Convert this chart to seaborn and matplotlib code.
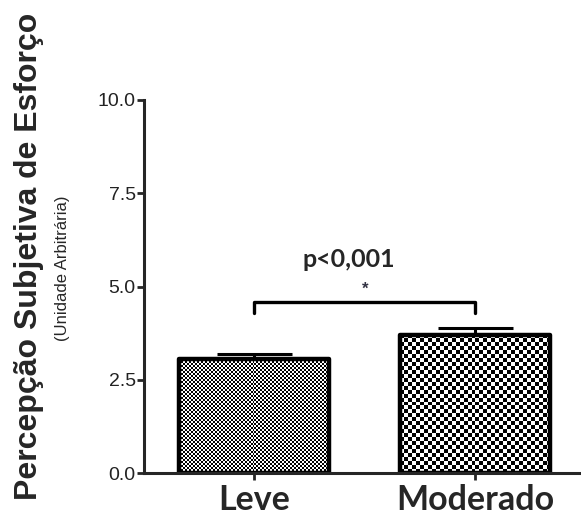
import numpy as np
import pandas as pd
import matplotlib
matplotlib.use("Agg")
import matplotlib.pyplot as plt
import seaborn as sns

# ─── Data ────────────────────────────────────────────────────
categories = ["Leve", "Moderado"]
means = [3.05, 3.70]
errors = [0.15, 0.18]
y_ticks = [0.0, 2.5, 5.0, 7.5, 10.0]
bracket_y = [4.30, 4.58]
p_label = "p<0,001"

# ─── Figure ──────────────────────────────────────────────────
sns.set_style("white")
plt.rcParams["font.family"] = ["Liberation Sans", "DejaVu Sans"]

fig = plt.figure(figsize=(5.81, 5.29), dpi=100)
ax = fig.add_axes([144 / 581, 1 - 473 / 529, 1 - 144 / 581, (473 - 100) / 529])

df = pd.DataFrame({"cat": categories, "val": means})
sns.barplot(data=df, x="cat", y="val", ax=ax, width=0.68,
            color="white", edgecolor="black", linewidth=3.2, errorbar=None)

ax.set_xlim(-0.5, 1.48)
ax.set_ylim(0, 10)

# error bars (upper only, the bar hides the rest)
ax.errorbar([0, 1], means, yerr=[[0, 0], errors], fmt="none",
            ecolor="black", elinewidth=2.2, capsize=27, capthick=2.2, zorder=1)


def checker(cell, w, h):
    ny, nx = int(np.ceil(h / cell)), int(np.ceil(w / cell))
    return (np.indices((ny, nx)).sum(axis=0) % 2).astype(float)


# checkerboard fills clipped to the bars
cells = [2, 4]
for patch, cell in zip(ax.patches, cells):
    patch.set_joinstyle("round")
    x0, y0 = patch.get_x(), patch.get_y()
    x1, y1 = x0 + patch.get_width(), y0 + patch.get_height()
    (px0, py0), (px1, py1) = ax.transData.transform([(x0, y0), (x1, y1)])
    img = checker(cell, px1 - px0, py1 - py0)
    im = ax.imshow(img, cmap="gray", vmin=0, vmax=1, interpolation="nearest",
                   extent=(x0, x1, y0, y1), aspect="auto", zorder=1.5)
    im.set_clip_path(patch)
    patch.set_zorder(2)
    patch.set_facecolor("none")

ax.set_xlim(-0.5, 1.48)
ax.set_ylim(0, 10)

# significance bracket
ax.plot([0, 0, 1, 1], [bracket_y[0], bracket_y[1], bracket_y[1], bracket_y[0]],
        color="black", lw=2.4, solid_capstyle="round", solid_joinstyle="round",
        clip_on=False)
ax.text(0.5, 4.72, "*", ha="center", va="bottom", fontsize=12, fontweight="bold",
        color="#333344")
ax.text(0.43, 5.42, p_label, ha="center", va="bottom", fontsize=18,
        fontweight="bold", family=["Lato", "DejaVu Sans"])

# axes styling
sns.despine(ax=ax)
ax.spines["left"].set_linewidth(2.2)
ax.spines["bottom"].set_linewidth(2.2)
ax.spines["left"].set_bounds(0, 10)
ax.set_yticks(y_ticks)
ax.set_yticklabels([f"{t:.1f}" for t in y_ticks])
ax.tick_params(axis="y", direction="out", length=5, width=2, pad=1,
               labelsize=14, left=True, labelcolor="#222222")
ax.tick_params(axis="x", direction="out", length=5, width=2, pad=3, bottom=True)
for lab in ax.get_xticklabels():
    lab.set_fontfamily(["Lato", "DejaVu Sans"])
    lab.set_fontweight("bold")
    lab.set_fontsize(24.5)
ax.set_xlabel("")
ax.set_ylabel("")

fig.text(29 / 581, 1 - 256 / 529, "Percepção Subjetiva de Esforço", rotation=90,
         ha="center", va="center", fontsize=23, fontweight="bold")
fig.text(63 / 581, 1 - 268 / 529, "(Unidade Arbitrária)", rotation=90,
         ha="center", va="center", fontsize=12,
         family=["Liberation Sans Narrow", "Liberation Sans"])

fig.savefig("out.png", dpi=100)
